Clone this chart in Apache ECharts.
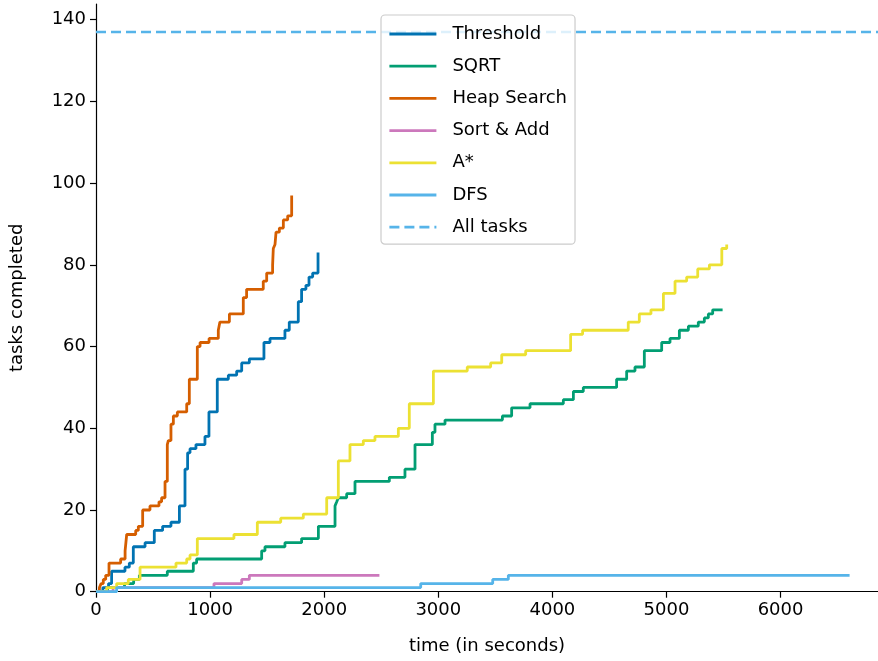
<!DOCTYPE html>
<html>
<head>
<meta charset="utf-8">
<script src="https://cdn.jsdelivr.net/npm/echarts@6/dist/echarts.min.js"></script>
<style>
html,body{margin:0;padding:0;background:#fff;}
#chart{width:878px;height:661px;}
</style>
</head>
<body>
<div id="chart"></div>
<script>
// ---- data (time in seconds, tasks completed) ----
const seriesNames = ["Threshold", "SQRT", "Heap Search", "Sort & Add", "A*", "DFS"];
const thresholdT = [0,60,110,137,254,292,327,430,511,584,657,731,780,803,824,876,955,990,1063,1160,1233,1277,1344,1472,1525,1656,1694,1773,1802,1840,1867,1899,1946];
const thresholdV = [0,1,2,5,6,7,11,12,15,16,17,21,30,34,35,36,38,44,52,53,54,56,57,61,62,64,66,71,74,75,77,78,83];
const sqrtT = [0,100,250,330,380,625,853,882,1452,1481,1656,1802,1949,2095,2110,2124,2197,2270,2571,2708,2796,2948,2971,3059,3562,3643,3804,4096,4184,4271,4563,4651,4724,4806,4958,5031,5113,5192,5279,5332,5367,5405,5492];
const sqrtV = [0,1,2,3,4,5,7,8,10,11,12,13,16,21,22,23,24,27,28,30,36,39,41,42,43,45,46,47,49,50,52,54,55,59,61,62,64,65,66,67,68,69,69];
const heapT = [0,30,45,64,85,114,216,255,269,348,371,409,473,552,575,605,625,634,657,678,713,795,818,888,912,991,1072,1086,1169,1291,1320,1466,1496,1548,1554,1569,1578,1607,1642,1680,1715];
const heapV = [0,1,2,3,4,7,8,10,14,15,16,20,21,22,23,27,36,37,41,43,44,46,52,60,61,62,64,66,68,72,74,76,78,80,84,85,88,89,91,92,97];
const sortT = [0,150,1034,1277,1344,2484];
const sortV = [0,1,2,3,4,4];
const astarT = [0,93,181,283,386,701,795,824,888,1209,1414,1619,1817,2022,2124,2226,2343,2445,2650,2746,2957,3254,3459,3556,3766,4160,4265,4665,4762,4864,4973,5075,5177,5274,5376,5485,5528];
const astarV = [0,1,2,3,6,7,8,9,13,14,17,18,19,23,32,36,37,38,40,46,54,55,56,58,59,63,64,66,68,69,73,76,77,79,80,84,85];
const dfsT = [0,181,2846,3477,3614,6605];
const dfsV = [0,1,2,3,4,4];
const allTasks = 137;
const yTicks = [0,20,40,60,80,100,120,140];
const xTicks = [0,1000,2000,3000,4000,5000,6000];

const xMax = 6854, yMax = 143.85;
const colors = ["#0173B2", "#029E73", "#D55E00", "#CC78BC", "#ECE133", "#56B4E9"];
const tv = [[thresholdT,thresholdV],[sqrtT,sqrtV],[heapT,heapV],[sortT,sortV],[astarT,astarV],[dfsT,dfsV]];

const FONT = "DejaVu Sans";
const series = tv.map((p, i) => ({
  name: seriesNames[i],
  type: 'line',
  step: 'end',
  symbol: 'none',
  data: p[0].map((t, k) => [t, p[1][k]]),
  lineStyle: {color: colors[i], width: 2.8},
  itemStyle: {color: colors[i]},
  animation: false
}));
series.push({
  name: "All tasks",
  type: 'line',
  symbol: 'none',
  data: [[0, allTasks], [xMax, allTasks]],
  lineStyle: {color: "#56B4E9", width: 2.6, type: [10, 5]},
  itemStyle: {color: "#56B4E9"},
  animation: false
});

const chart = echarts.init(document.getElementById('chart'), null, {renderer: 'canvas'});
chart.setOption({
  animation: false,
  backgroundColor: '#fff',
  textStyle: {fontFamily: FONT, color: '#000'},
  grid: {left: 96, right: 0, top: 4, bottom: 69.3, containLabel: false},
  legend: {
    orient: 'vertical',
    left: 381, top: 15,
    padding: [10, 8, 8, 7],
    itemWidth: 47, itemHeight: 14, itemGap: 14.2,
    itemStyle: {color: 'rgba(0,0,0,0)', borderWidth: 0, opacity: 0},
    lineStyle: {width: 2.8},
    backgroundColor: 'rgba(255,255,255,0.8)',
    borderColor: '#cccccc', borderWidth: 1.2, borderRadius: 4,
    textStyle: {fontFamily: FONT, fontSize: 18, color: '#000', padding: [0, 0, 0, 11]},
    data: seriesNames.concat(["All tasks"])
  },
  xAxis: [{
    type: 'value', min: 0, max: xMax, interval: 1000,
    name: 'time (in seconds)', nameLocation: 'middle', nameGap: 46,
    nameTextStyle: {fontFamily: FONT, fontSize: 18, color: '#000'},
    axisLine: {show: true, onZero: false, lineStyle: {color: '#000', width: 1.2}},
    axisTick: {show: true, length: 6, lineStyle: {color: '#000', width: 1.2}},
    axisLabel: {fontFamily: FONT, fontSize: 18, color: '#000', margin: 10,
      formatter: v => xTicks.indexOf(v) >= 0 ? String(v) : '', showMaxLabel: false},
    splitLine: {show: false}
  }, {
    type: 'value', position: 'top', min: 0, max: xMax,
    axisLine: {show: true, lineStyle: {color: '#000', width: 1.2}},
    axisTick: {show: false}, axisLabel: {show: false}, splitLine: {show: false}
  }],
  yAxis: {
    type: 'value', min: 0, max: yMax, interval: 20,
    name: 'tasks completed', nameLocation: 'middle', nameGap: 70, nameRotate: 90,
    nameTextStyle: {fontFamily: FONT, fontSize: 18, color: '#000'},
    axisLine: {show: true, lineStyle: {color: '#000', width: 1.2}},
    axisTick: {show: true, length: 6, lineStyle: {color: '#000', width: 1.2}},
    axisLabel: {fontFamily: FONT, fontSize: 18, color: '#000', margin: 10,
      formatter: v => yTicks.indexOf(v) >= 0 ? String(v) : '', showMaxLabel: false},
    splitLine: {show: false}
  },
  series: series
});
</script>
</body>
</html>
